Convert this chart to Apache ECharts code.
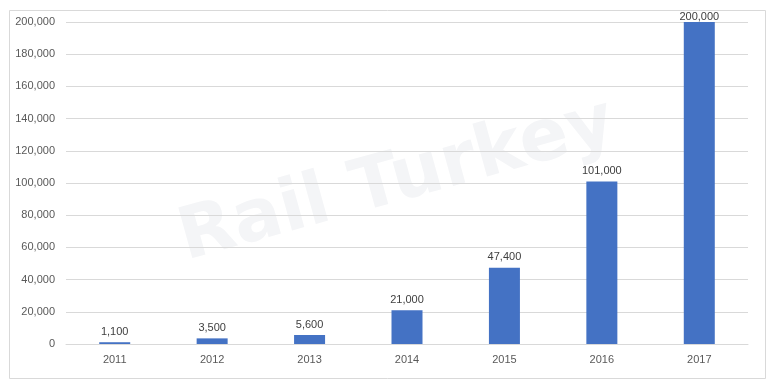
<!DOCTYPE html>
<html><head><meta charset="utf-8">
<script src="https://cdn.jsdelivr.net/npm/echarts@6/dist/echarts.min.js"></script>
<style>html,body{margin:0;padding:0;background:#fff}#c{width:773px;height:383px}</style>
</head><body><div id="c"></div>
<script>
const categories = ['2011','2012','2013','2014','2015','2016','2017'];
const values = [1100, 3500, 5600, 21000, 47400, 101000, 200000];
const yTicks = {min: 0, max: 200000, interval: 20000};

const chart = echarts.init(document.getElementById('c'), null, {renderer: 'canvas'});
const fmt = v => v.toLocaleString('en-US');
const barData = values.map((v, i) => i === values.length - 1 ? {value: v, label: {distance: 0}} : v);
chart.setOption({
  animation: false,
  backgroundColor: '#fff',
  graphic: [
    {type: 'rect', left: 7, top: 8, shape: {width: 756, height: 368}, style: {fill: 'none', stroke: '#d9d9d9', lineWidth: 1}, z: -10},
    {type: 'text', x: 397, y: 182, rotation: 0.27, z: -5,
     style: {text: 'Rail Turkey', fontSize: 72, fontWeight: 'bold', fontFamily: 'DejaVu Sans', fill: '#f4f5f7', align: 'center', verticalAlign: 'middle'}}
  ],
  grid: {left: 66, right: 25, top: 22, bottom: 39},
  xAxis: {
    type: 'category', data: categories,
    axisLine: {lineStyle: {color: '#d9d9d9'}}, axisTick: {show: false},
    axisLabel: {color: '#595959', fontSize: 11, fontFamily: 'Liberation Sans, Arial', margin: 10}
  },
  yAxis: {
    type: 'value', min: yTicks.min, max: yTicks.max, interval: yTicks.interval,
    axisLine: {show: false}, axisTick: {show: false},
    splitLine: {lineStyle: {color: '#d9d9d9'}},
    axisLabel: {color: '#595959', fontSize: 11, fontFamily: 'Liberation Sans, Arial', margin: 11, formatter: fmt}
  },
  series: [{
    type: 'bar', data: barData, barWidth: 31,
    itemStyle: {color: '#4472C4'},
    label: {show: true, position: 'top', distance: 5, color: '#404040', fontSize: 11, fontFamily: 'Liberation Sans, Arial', formatter: p => fmt(p.value)}
  }]
});
</script></body></html>
